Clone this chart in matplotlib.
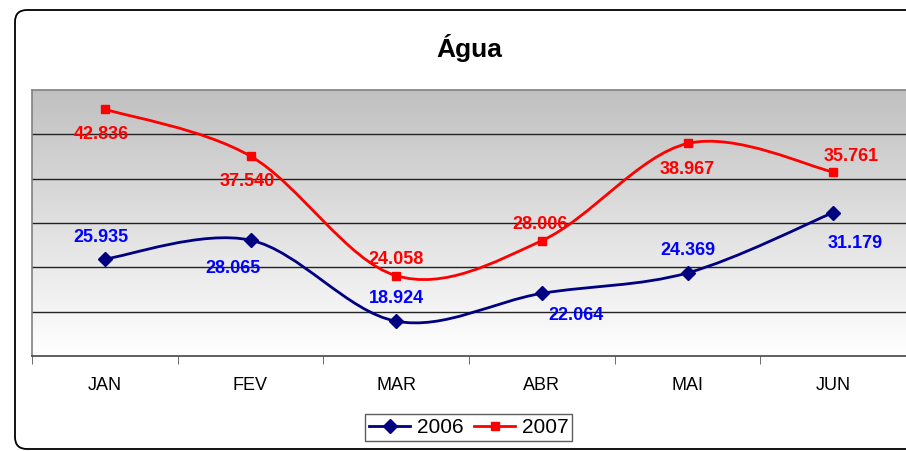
import matplotlib
import matplotlib.pyplot as plt
import numpy as np
from matplotlib.colors import LinearSegmentedColormap
from matplotlib.patches import FancyBboxPatch, PathPatch
from matplotlib.path import Path

matplotlib.use('Agg')
plt.rcParams['font.family'] = ['Liberation Sans', 'DejaVu Sans']

months = ['JAN', 'FEV', 'MAR', 'ABR', 'MAI', 'JUN']
agua_2006 = [25935, 28065, 18924, 22064, 24369, 31179]
agua_2007 = [42836, 37540, 24058, 28006, 38967, 35761]

# label offsets in pixels (dx, dy) relative to each point
off_2006 = [(-4, 22), (-18, -28), (0, 23), (34, -22), (0, 22), (22, -31)]
off_2007 = [(-4, -25), (-3, -25), (0, 16), (-2, 16), (0, -26), (18, 15)]


def smooth_path(xs, ys):
    # Excel-like smoothed line: cubic bezier, catmull-rom control points
    pts = np.column_stack([xs, ys]).astype(float)
    n = len(pts)
    verts = [pts[0]]
    codes = [Path.MOVETO]
    for i in range(n - 1):
        p0 = pts[max(i - 1, 0)]
        p1 = pts[i]
        p2 = pts[i + 1]
        p3 = pts[min(i + 2, n - 1)]
        c1 = p1 + (p2 - p0) / 6.0
        c2 = p2 - (p3 - p1) / 6.0
        verts += [c1, c2, p2]
        codes += [Path.CURVE4] * 3
    return Path(verts, codes)


def fmt(v):
    return f"{v:,}".replace(',', '.')


W, H = 906, 451
fig = plt.figure(figsize=(W / 100, H / 100), dpi=100)

# outer rounded frame
bg = fig.add_axes([0, 0, 1, 1], zorder=-5)
bg.set_xlim(0, W)
bg.set_ylim(H, 0)
bg.axis('off')
bg.add_patch(FancyBboxPatch((15, 10), 930, 439, boxstyle='round,pad=0,rounding_size=12',
                            fc='white', ec='black', lw=1.3))

ax = fig.add_axes([32 / W, 1 - 356 / H, 874 / W, 266 / H])
ax.set_xlim(-0.5, 5.5)
ax.set_ylim(15000, 45000)

# grey at the top fading to white at the bottom
cmap = LinearSegmentedColormap.from_list('g', ['#c0c0c0', '#ffffff'])
grad = np.linspace(0, 1, 256).reshape(-1, 1)
ax.imshow(grad, cmap=cmap, aspect='auto', origin='upper',
          extent=(-0.5, 5.5, 15000, 45000), zorder=0)

for yv in range(20000, 45000, 5000):
    ax.axhline(yv, color='#222222', lw=1.0, zorder=1)

x = np.arange(len(months))
series = [
    (agua_2006, '#000080', '#0000ff', 'D', 7, '2006', off_2006),
    (agua_2007, '#ff0000', '#ff0000', 's', 6, '2007', off_2007),
]
for vals, col, tcol, mk, ms, lab, offs in series:
    ax.add_patch(PathPatch(smooth_path(x, vals), fc='none', ec=col, lw=2.0, zorder=3))
    ax.plot(x, vals, ls='none', marker=mk, ms=ms, color=col, zorder=4)
    ax.plot([], [], color=col, lw=2.0, marker=mk, ms=ms, label=lab)
    for xi, v, (dx, dy) in zip(x, vals, offs):
        ax.annotate(fmt(v), (xi, v), xytext=(dx, dy), textcoords='offset pixels',
                    ha='center', va='center', color=tcol, fontsize=13,
                    fontweight='bold', zorder=5)

ax.set_xticks(x)
ax.set_xticklabels(months, fontsize=13)
ax.set_xticks(np.arange(-0.5, 6, 1), minor=True)
ax.tick_params(axis='x', which='major', length=0, pad=15)
ax.tick_params(axis='x', which='minor', length=6, color='#555555')
ax.set_yticks([])
ax.spines['right'].set_visible(False)
ax.spines['top'].set_color('#808080')
ax.spines['left'].set_color('#808080')
ax.spines['bottom'].set_color('#444444')
for s in ['top', 'left', 'bottom']:
    ax.spines[s].set_linewidth(1.2)

fig.text(469 / W, 1 - 48 / H, 'Água', ha='center', va='center',
         fontsize=19, fontweight='bold')

leg = fig.legend(loc='center', bbox_to_anchor=(468.5 / W, 1 - 427.5 / H), ncol=2,
                 fontsize=15, frameon=True, fancybox=False, handlelength=2.0,
                 handletextpad=0.3, columnspacing=0.5, borderpad=0.2,
                 borderaxespad=0)
leg.get_frame().set_edgecolor('#333333')
leg.get_frame().set_linewidth(1.0)

fig.savefig('out.png', dpi=100)
